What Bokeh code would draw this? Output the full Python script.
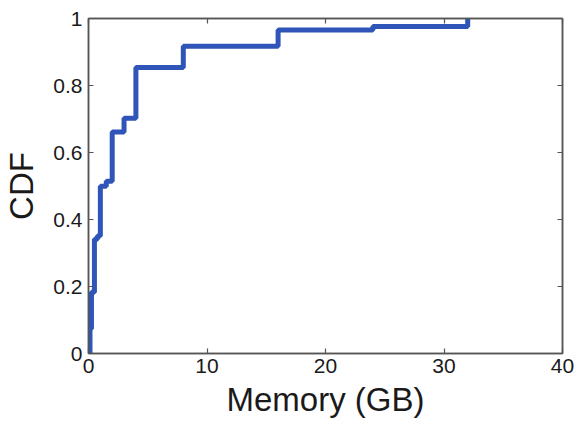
from bokeh.plotting import figure
from bokeh.models import LinearAxis, FixedTicker, Range1d, CustomLabelingPolicy
from bokeh.embed import file_html
from bokeh.resources import INLINE

# Memory size per VM (GB) and cumulative fraction reached at that size
mem_gb = [0.125, 0.25, 0.5, 0.75, 1, 1.5, 2, 3, 4, 8, 16, 24, 32]
cdf = [0.074, 0.183, 0.341, 0.351, 0.499, 0.514, 0.661, 0.702, 0.854, 0.917, 0.966, 0.976, 1.0]

x_ticks = [0, 10, 20, 30, 40]
y_ticks = [0, 0.2, 0.4, 0.6, 0.8, 1]
y_tick_labels = {0: "0", 0.2: "0.2", 0.4: "0.4", 0.6: "0.6", 0.8: "0.8", 1: "1"}

FONT = "Liberation Sans"
FRAME = "#555555"

p = figure(width=574, height=424, output_backend="svg", toolbar_location=None,
           x_range=Range1d(0, 40), y_range=Range1d(0, 1),
           min_border_left=88, min_border_right=12, min_border_top=18, min_border_bottom=71)
p.background_fill_color = "white"
p.border_fill_color = "white"
p.outline_line_color = FRAME
p.outline_line_width = 1.5
p.grid.visible = False

xs = [0] + mem_gb
ys = [0] + cdf
p.step(xs, ys, mode="after", line_color="#2f55b8", line_width=5)

def style(ax):
    ax.axis_line_color = FRAME
    ax.axis_line_width = 1.5
    ax.major_tick_line_color = FRAME
    ax.major_tick_line_width = 1.2
    ax.major_tick_in = 5
    ax.major_tick_out = 0
    ax.minor_tick_line_color = None
    ax.major_label_text_font = FONT
    ax.major_label_text_color = "#1a1a1a"
    ax.major_label_text_font_size = "21px"

xa = p.xaxis[0]
ya = p.yaxis[0]
xa.ticker = FixedTicker(ticks=x_ticks)
ya.ticker = FixedTicker(ticks=y_ticks)
ya.major_label_overrides = y_tick_labels
style(xa)
style(ya)
xa.major_label_standoff = 5
ya.major_label_standoff = 6
xa.axis_label = "Memory (GB)"
ya.axis_label = "CDF"
for ax in (xa, ya):
    ax.axis_label_text_font = FONT
    ax.axis_label_text_font_size = "33px"
    ax.axis_label_text_font_style = "normal"
    ax.axis_label_text_color = "#1a1a1a"
xa.axis_label_standoff = 5
ya.axis_label_standoff = 10

# Tick marks only on the top and right edges of the box
no_labels = CustomLabelingPolicy(code="return new Set()")
top = LinearAxis(ticker=FixedTicker(ticks=x_ticks))
right = LinearAxis(ticker=FixedTicker(ticks=y_ticks))
for ax in (top, right):
    style(ax)
    ax.major_label_policy = no_labels
    ax.major_label_text_font_size = "1px"
    ax.major_label_standoff = 0
p.add_layout(top, "above")
p.add_layout(right, "right")

open("out.html", "w").write(file_html(p, INLINE))
